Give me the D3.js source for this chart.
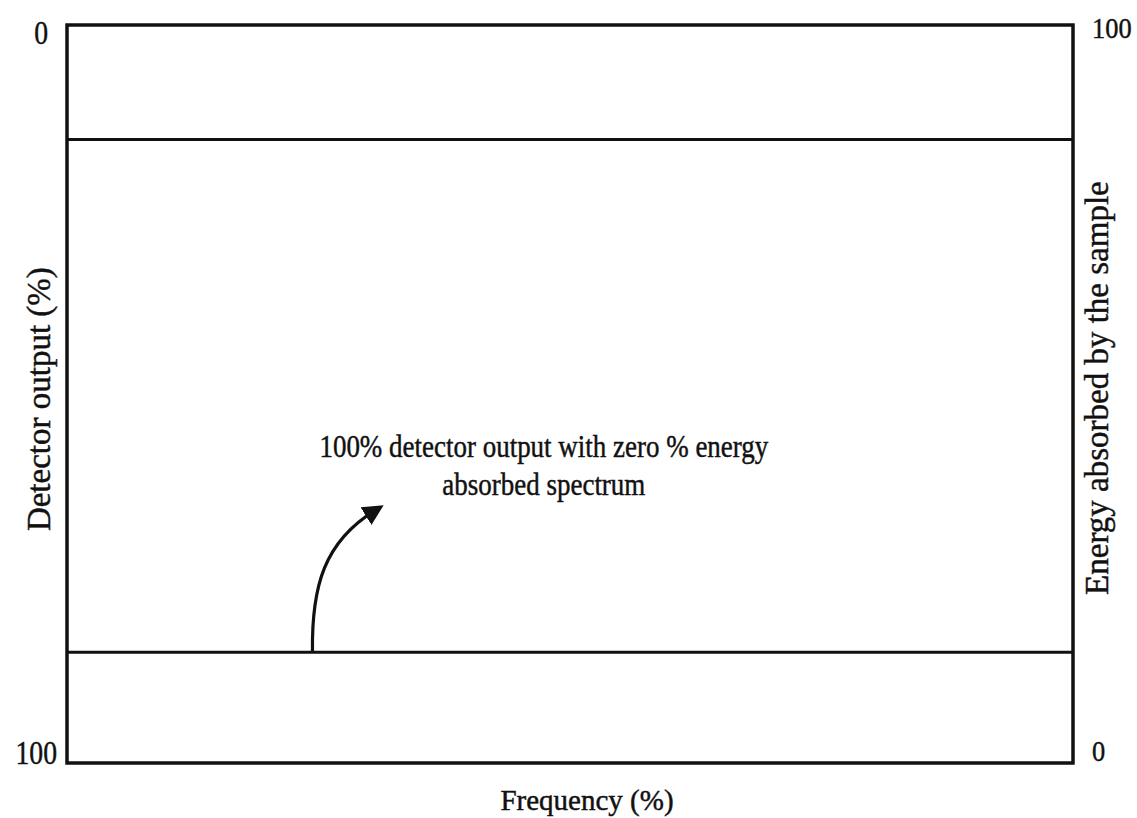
<!DOCTYPE html>
<html>
<head>
<meta charset="utf-8">
<script src="https://cdn.jsdelivr.net/npm/d3@7"></script>
<style>
  html, body { margin: 0; padding: 0; background: #fff; }
  svg text { font-family: "Liberation Serif", "DejaVu Serif", serif; fill: #111; stroke: #111; stroke-width: 0.45px; }
</style>
</head>
<body>
<svg id="chart" width="1137" height="818"></svg>
<script>
// Axis ranges and tick labels
const leftTicks = [0, 100];          // detector output (%), 0 at top
const rightTicks = [0, 100];         // energy absorbed (%), 0 at bottom
const xDomain = [0, 100];            // frequency (%)

// Horizontal spectrum levels, read on the detector-output scale
const spectrumNames = ["reference", "zeroAbsorption"];
const spectrumLevels = [15.5, 85];

// Annotation: text lines, anchor (frequency %, detector %), and arrow path in data units
const noteLines = ["100% detector output with zero % energy", "absorbed spectrum"];
const noteAnchor = [47.4, 58.5];
const arrowPath = [[24.4, 85], [24.3, 76.0], [25.6, 70.0], [30.6, 65.8]];

const svg = d3.select("#chart");
const m = { left: 67, right: 1073, top: 25, bottom: 763 };

const x = d3.scaleLinear().domain(xDomain).range([m.left, m.right]);
const yL = d3.scaleLinear().domain([0, 100]).range([m.top, m.bottom]);
const yR = d3.scaleLinear().domain([0, 100]).range([m.bottom, m.top]);

// Narrow the set type a little (the print face is more condensed than the screen serif)
function condense(sel, k) {
  sel.each(function () {
    const w = this.getComputedTextLength();
    d3.select(this).attr("textLength", w * k).attr("lengthAdjust", "spacingAndGlyphs");
  });
}

// Frame
svg.append("rect")
  .attr("x", x(0)).attr("y", yL(0))
  .attr("width", x(100) - x(0)).attr("height", yL(100) - yL(0))
  .attr("fill", "none").attr("stroke", "#111").attr("stroke-width", 3.5);

// Left axis (labels only)
const axL = svg.append("g").attr("transform", `translate(${m.left},0)`)
  .call(d3.axisLeft(yL).tickValues(leftTicks).tickSize(0).tickFormat(d3.format("d")));
axL.select(".domain").remove();
axL.selectAll("text")
  .attr("font-size", 33)
  .attr("x", (d) => d === 0 ? -19 : -10)
  .attr("dy", (d) => d === 0 ? "0.57em" : "0.0em");
condense(axL.selectAll("text"), 0.84);

// Right axis (labels only)
const axR = svg.append("g").attr("transform", `translate(${m.right},0)`)
  .call(d3.axisRight(yR).tickValues(rightTicks).tickSize(0).tickFormat(d3.format("d")));
axR.select(".domain").remove();
axR.selectAll("text")
  .attr("font-size", 30)
  .attr("x", 19)
  .attr("dy", (d) => d === 0 ? "-0.1em" : "0.42em");
condense(axR.selectAll("text"), 0.88);

// Spectrum lines
svg.append("g").selectAll("line")
  .data(spectrumLevels)
  .join("line")
  .attr("class", (d, i) => spectrumNames[i])
  .attr("x1", x(0)).attr("x2", x(100))
  .attr("y1", (d) => yL(d)).attr("y2", (d) => yL(d))
  .attr("stroke", "#111").attr("stroke-width", 3);

// Axis titles
svg.append("text")
  .attr("x", 587).attr("y", 810)
  .attr("text-anchor", "middle").attr("font-size", 29)
  .text("Frequency (%)");

svg.append("text")
  .attr("transform", `translate(50,${yL(50.7)}) rotate(-90)`)
  .attr("text-anchor", "middle").attr("font-size", 33)
  .text("Detector output (%)");

svg.append("text")
  .attr("transform", `translate(1108,${yL(49.2)}) rotate(-90)`)
  .attr("text-anchor", "middle").attr("font-size", 33)
  .text("Energy absorbed by the sample");

// Annotation
const note = svg.append("text")
  .attr("x", x(noteAnchor[0])).attr("y", yL(noteAnchor[1]))
  .attr("text-anchor", "middle").attr("font-size", 31);
note.selectAll("tspan").data(noteLines).join("tspan")
  .attr("x", x(noteAnchor[0])).attr("dy", (d, i) => i === 0 ? 0 : 38)
  .text((d) => d);
note.selectAll("tspan").each(function () {
  const w = this.getComputedTextLength();
  d3.select(this).attr("textLength", w * 0.87).attr("lengthAdjust", "spacingAndGlyphs");
});

svg.append("defs").append("marker")
  .attr("id", "head").attr("viewBox", "0 0 10 10")
  .attr("refX", 5).attr("refY", 5)
  .attr("markerWidth", 6.5).attr("markerHeight", 6.5)
  .attr("markerUnits", "strokeWidth")
  .attr("orient", "auto")
  .append("path").attr("d", "M0,0 L10,5 L0,10 Z").attr("fill", "#111");

const p = d3.path();
const pts = arrowPath.map(([a, b]) => [x(a), yL(b)]);
p.moveTo(pts[0][0], pts[0][1]);
p.bezierCurveTo(pts[1][0], pts[1][1], pts[2][0], pts[2][1], pts[3][0], pts[3][1]);
svg.append("path").attr("d", p.toString())
  .attr("fill", "none").attr("stroke", "#111").attr("stroke-width", 3.2)
  .attr("marker-end", "url(#head)");
</script>
</body>
</html>
